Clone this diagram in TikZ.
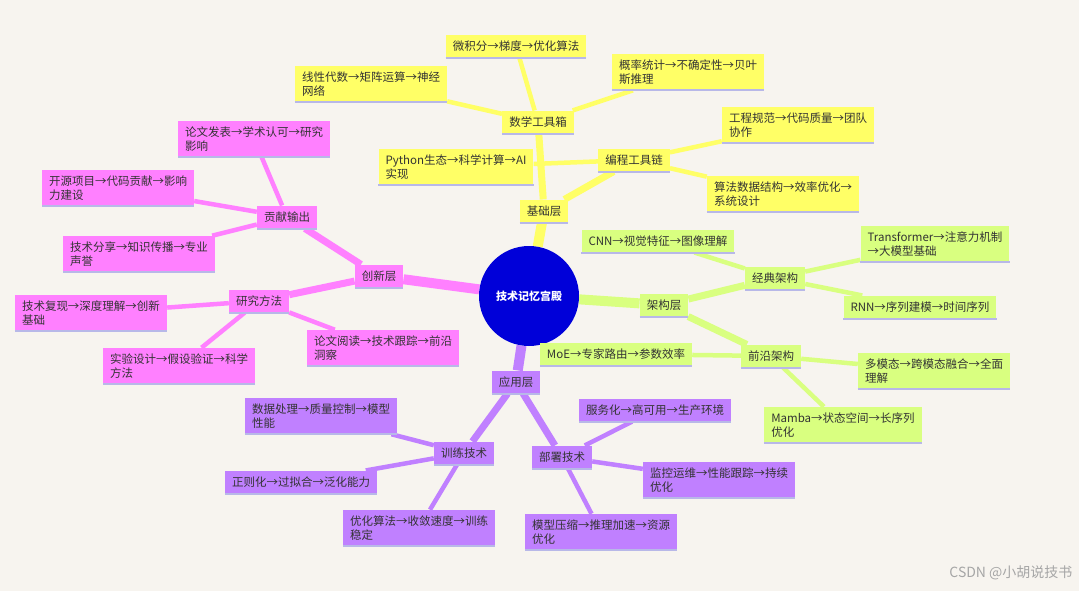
\documentclass[tikz,border=0pt]{standalone}
\usepackage{fontspec}
\setmainfont{Noto Sans CJK SC}
\usetikzlibrary{backgrounds}
\definecolor{bg}{HTML}{F7F4EF}
\definecolor{yel}{HTML}{FFFF66}
\definecolor{grn}{HTML}{D9FF80}
\definecolor{pur}{HTML}{C080FF}
\definecolor{pnk}{HTML}{FF80FF}
\definecolor{lav}{HTML}{B8B8E8}
\definecolor{txt}{HTML}{333333}
\tikzset{
 box/.style={fill=#1, text=txt, inner xsep=7pt, inner ysep=6pt, align=left,
   font=\fontsize{11.5}{13.5}\selectfont,
   append after command={(\tikzlastnode.south west) edge[draw=lav,line width=2pt] (\tikzlastnode.south east)}},
 l1/.style={draw=#1, line width=10pt},
 l2/.style={draw=#1, line width=7pt},
 l3/.style={draw=#1, line width=4.5pt},
}
\begin{document}
\begin{tikzpicture}[x=1pt,y=-1pt]
\useasboundingbox (0,0) rectangle (1079,591);
\node[circle, fill=blue!85!black, minimum size=100pt, text=white, font=\fontsize{11}{13}\selectfont\bfseries] (c) at (529,296) {技术记忆宫殿};
% yellow
\node[box=yel] (jc) at (544,211) {基础层};
\node[box=yel] (sx) at (538,122) {数学工具箱};
\node[box=yel] (y1) at (516,46) {微积分→梯度→优化算法};
\node[box=yel] (y2) at (371,84) {线性代数→矩阵运算→神经\\网络};
\node[box=yel] (y3) at (688,72) {概率统计→不确定性→贝叶\\斯推理};
\node[box=yel] (bc) at (634,160) {编程工具链};
\node[box=yel] (y4) at (456,167) {Python生态→科学计算→AI\\实现};
\node[box=yel] (y5) at (798,125) {工程规范→代码质量→团队\\协作};
\node[box=yel] (y6) at (783,194) {算法数据结构→效率优化→\\系统设计};
% green
\node[box=grn] (jg) at (664,305) {架构层};
\node[box=grn] (jd) at (775,278) {经典架构};
\node[box=grn] (g1) at (658,241) {CNN→视觉特征→图像理解};
\node[box=grn] (g2) at (935,244) {Transformer→注意力机制\\→大模型基础};
\node[box=grn] (g3) at (920,307) {RNN→序列建模→时间序列};
\node[box=grn] (qy) at (771,356) {前沿架构};
\node[box=grn] (g4) at (616,354) {MoE→专家路由→参数效率};
\node[box=grn] (g5) at (934,371) {多模态→跨模态融合→全面\\理解};
\node[box=grn] (g6) at (843,425) {Mamba→状态空间→长序列\\优化};
% purple
\node[box=pur] (yy) at (516,382) {应用层};
\node[box=pur] (xl) at (464,453) {训练技术};
\node[box=pur] (p1) at (321,416) {数据处理→质量控制→模型\\性能};
\node[box=pur] (p2) at (301,482) {正则化→过拟合→泛化能力};
\node[box=pur] (p3) at (419,528) {优化算法→收敛速度→训练\\稳定};
\node[box=pur] (bs) at (562,457) {部署技术};
\node[box=pur] (p4) at (655,410) {服务化→高可用→生产环境};
\node[box=pur] (p5) at (719,480) {监控运维→性能跟踪→持续\\优化};
\node[box=pur] (p6) at (601,532) {模型压缩→推理加速→资源\\优化};
% pink
\node[box=pnk] (cx) at (379,276) {创新层};
\node[box=pnk] (gx) at (287,217) {贡献输出};
\node[box=pnk] (k1) at (254,139) {论文发表→学术认可→研究\\影响};
\node[box=pnk] (k2) at (118,188) {开源项目→代码贡献→影响\\力建设};
\node[box=pnk] (k3) at (139,254) {技术分享→知识传播→专业\\声誉};
\node[box=pnk] (yf) at (259,301) {研究方法};
\node[box=pnk] (k4) at (91,313) {技术复现→深度理解→创新\\基础};
\node[box=pnk] (k5) at (179,366) {实验设计→假设验证→科学\\方法};
\node[box=pnk] (k6) at (383,348) {论文阅读→技术跟踪→前沿\\洞察};
\node[text=gray!70, font=\fontsize{14}{16}\selectfont, anchor=east] (wm) at (1076,573) {CSDN @小胡说技书};
\begin{pgfonlayer}{background}
\fill[bg] (0,0) rectangle (1079,591);
\draw[l1=yel] (c) -- (jc); \draw[l1=grn] (c) -- (jg);
\draw[l1=pur] (c) -- (yy); \draw[l1=pnk] (c) -- (cx);
\draw[l2=yel] (jc) -- (sx); \draw[l2=yel] (jc) -- (bc);
\draw[l3=yel] (sx) -- (y1); \draw[l3=yel] (sx) -- (y2); \draw[l3=yel] (sx) -- (y3);
\draw[l3=yel] (bc) -- (y4); \draw[l3=yel] (bc) -- (y5); \draw[l3=yel] (bc) -- (y6);
\draw[l2=grn] (jg) -- (jd); \draw[l2=grn] (jg) -- (qy);
\draw[l3=grn] (jd) -- (g1); \draw[l3=grn] (jd) -- (g2); \draw[l3=grn] (jd) -- (g3);
\draw[l3=grn] (qy) -- (g4); \draw[l3=grn] (qy) -- (g5); \draw[l3=grn] (qy) -- (g6);
\draw[l2=pur] (yy) -- (xl); \draw[l2=pur] (yy) -- (bs);
\draw[l3=pur] (xl) -- (p1); \draw[l3=pur] (xl) -- (p2); \draw[l3=pur] (xl) -- (p3);
\draw[l3=pur] (bs) -- (p4); \draw[l3=pur] (bs) -- (p5); \draw[l3=pur] (bs) -- (p6);
\draw[l2=pnk] (cx) -- (gx); \draw[l2=pnk] (cx) -- (yf);
\draw[l3=pnk] (gx) -- (k1); \draw[l3=pnk] (gx) -- (k2); \draw[l3=pnk] (gx) -- (k3);
\draw[l3=pnk] (yf) -- (k4); \draw[l3=pnk] (yf) -- (k5); \draw[l3=pnk] (yf) -- (k6);
\end{pgfonlayer}
\end{tikzpicture}
\end{document}
